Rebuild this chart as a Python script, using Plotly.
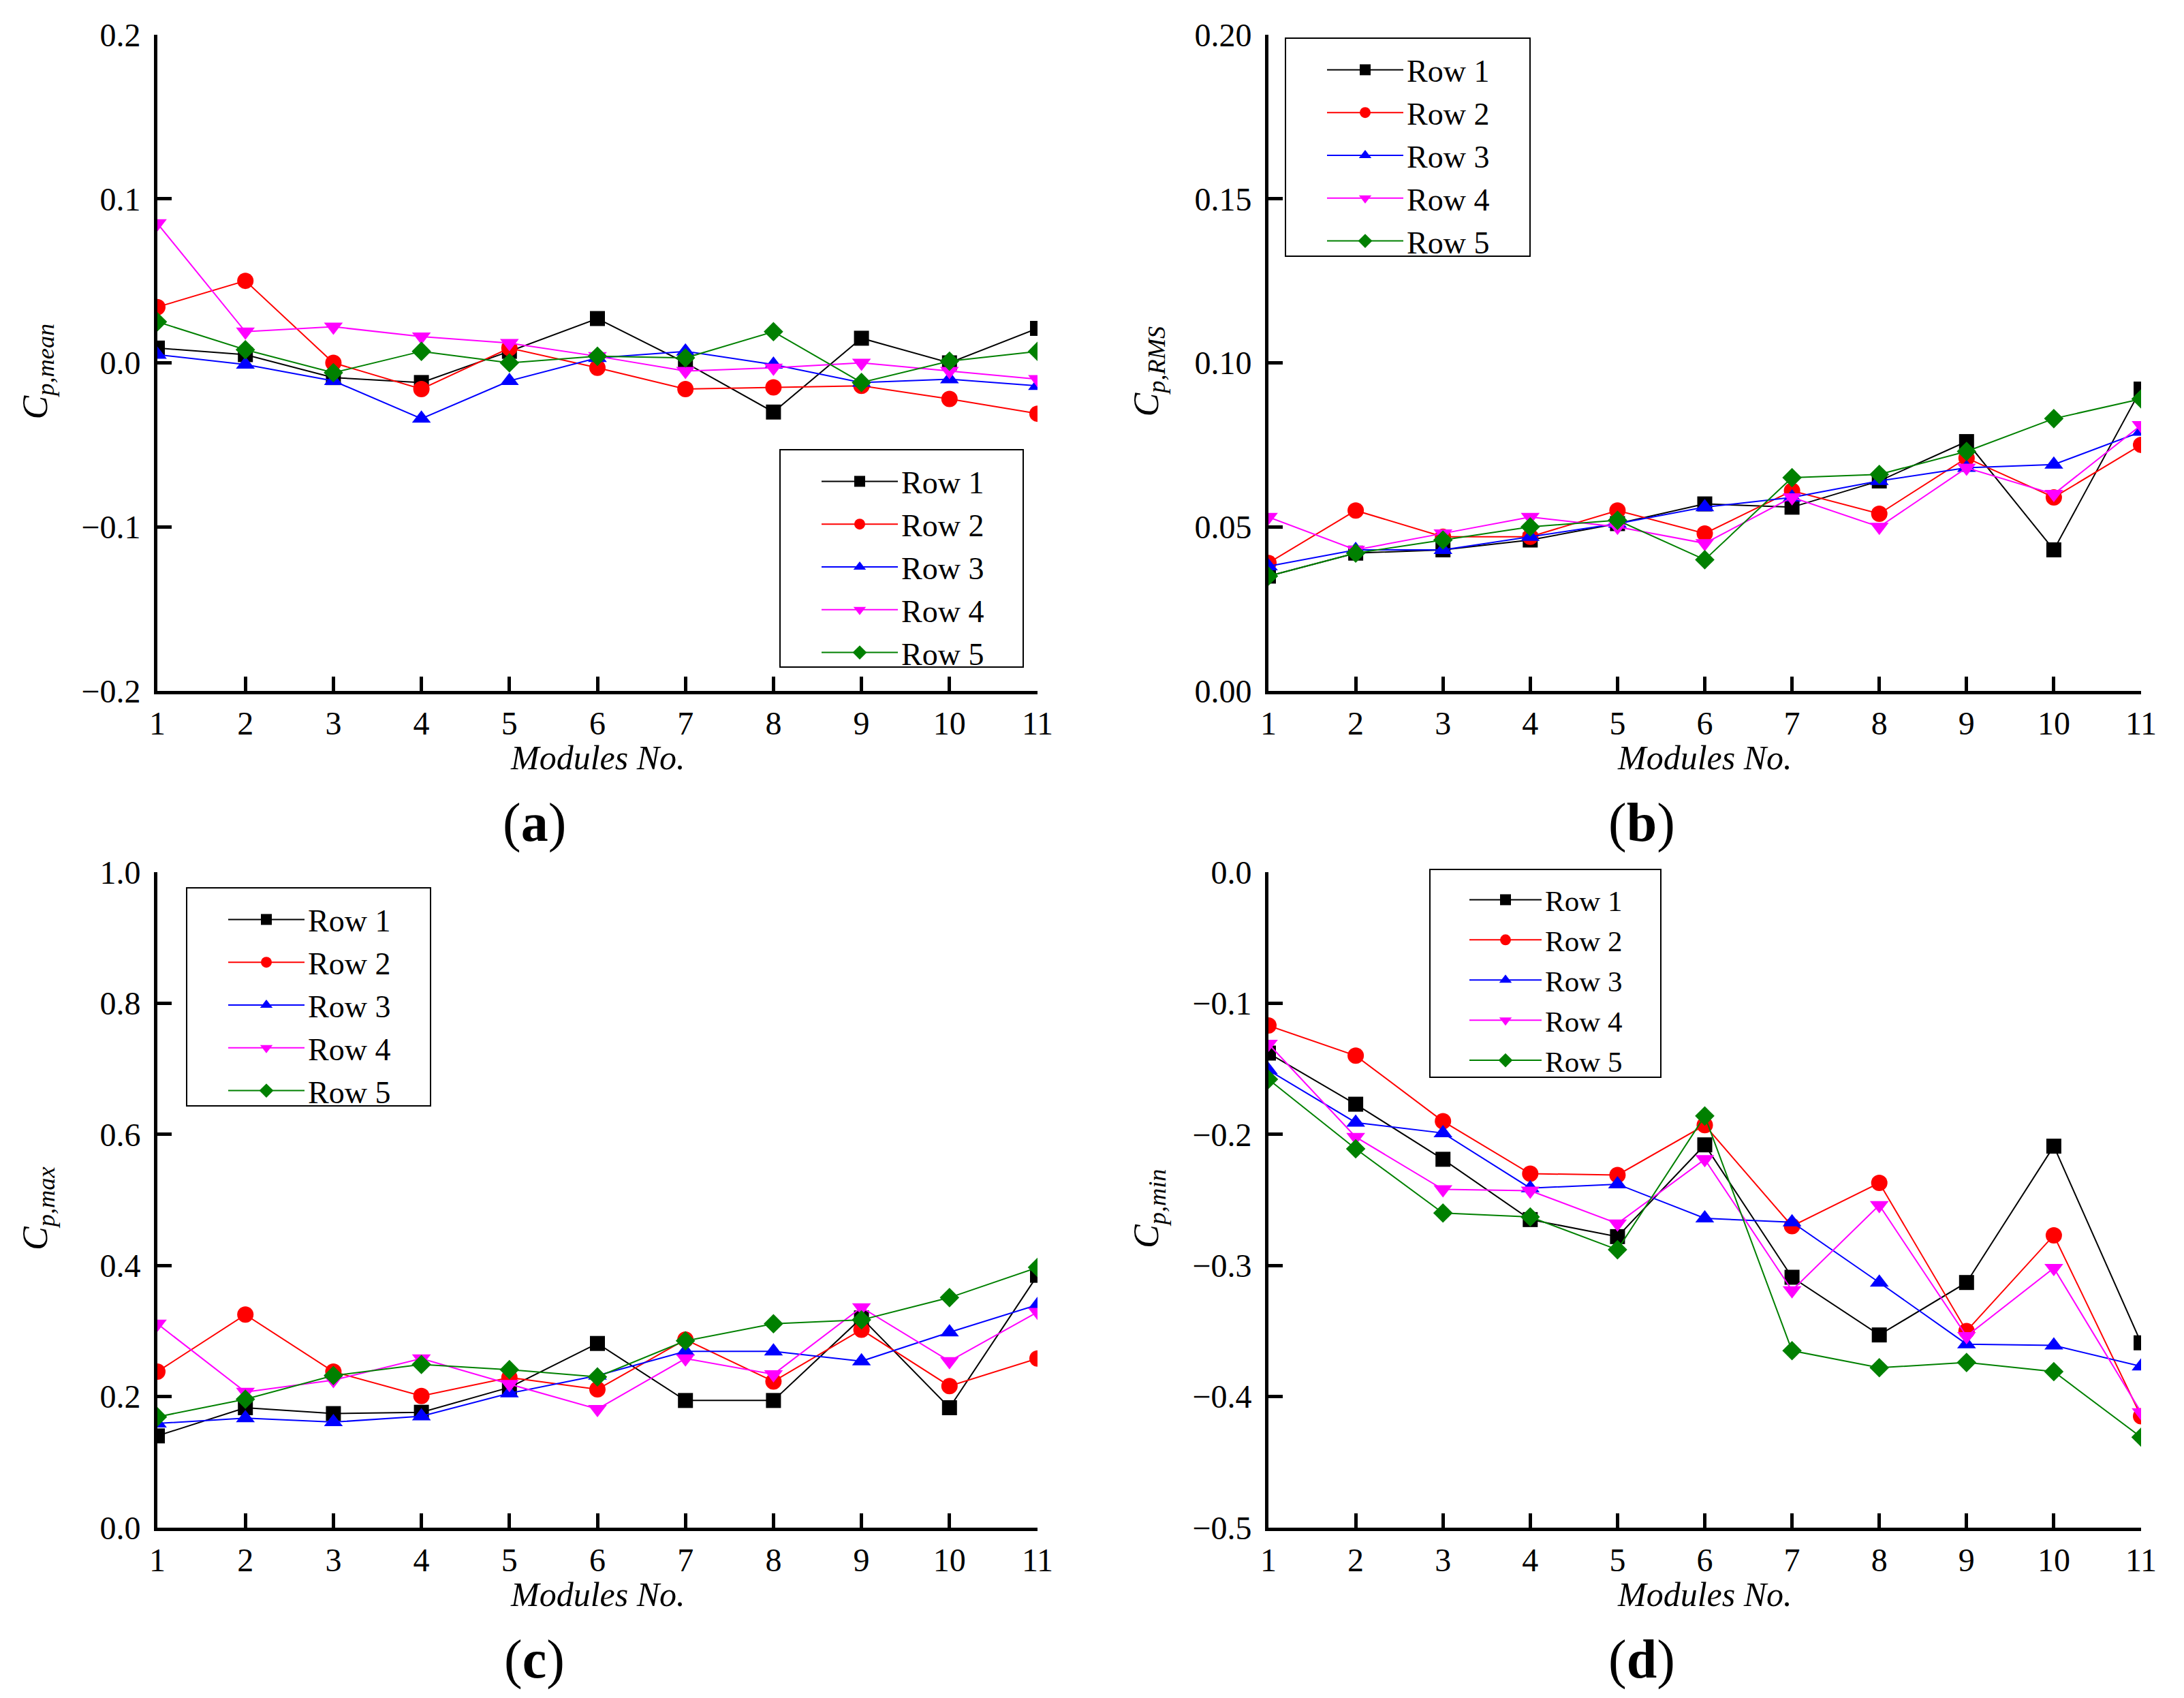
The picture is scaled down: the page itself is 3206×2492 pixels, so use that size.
import plotly.graph_objects as go
from plotly.subplots import make_subplots

modules = list(range(1, 12))
row_names = ["Row 1", "Row 2", "Row 3", "Row 4", "Row 5"]

# (a) mean pressure coefficient
cp_mean_row1 = [0.009, 0.005, -0.009, -0.012, 0.007, 0.027, 0.0, -0.030, 0.015, 0.0, 0.021]
cp_mean_row2 = [0.034, 0.050, 0.0, -0.016, 0.009, -0.003, -0.016, -0.015, -0.014, -0.022, -0.031]
cp_mean_row3 = [0.005, -0.001, -0.011, -0.034, -0.011, 0.003, 0.007, -0.001, -0.012, -0.010, -0.014]
cp_mean_row4 = [0.085, 0.019, 0.022, 0.016, 0.012, 0.004, -0.005, -0.003, 0.0, -0.005, -0.010]
cp_mean_row5 = [0.025, 0.008, -0.006, 0.007, 0.0, 0.004, 0.003, 0.019, -0.012, 0.001, 0.007]

# (b) RMS
cp_rms_row1 = [0.035, 0.042, 0.043, 0.046, 0.051, 0.057, 0.056, 0.064, 0.076, 0.043, 0.092]
cp_rms_row2 = [0.039, 0.055, 0.047, 0.047, 0.055, 0.048, 0.061, 0.054, 0.071, 0.059, 0.075]
cp_rms_row3 = [0.038, 0.043, 0.043, 0.047, 0.051, 0.056, 0.059, 0.064, 0.068, 0.069, 0.079]
cp_rms_row4 = [0.053, 0.043, 0.048, 0.053, 0.050, 0.045, 0.059, 0.050, 0.068, 0.060, 0.081]
cp_rms_row5 = [0.035, 0.042, 0.046, 0.050, 0.052, 0.040, 0.065, 0.066, 0.073, 0.083, 0.089]

# (c) max
cp_max_row1 = [0.140, 0.183, 0.174, 0.176, 0.214, 0.281, 0.194, 0.194, 0.320, 0.183, 0.385]
cp_max_row2 = [0.238, 0.325, 0.238, 0.201, 0.229, 0.211, 0.287, 0.223, 0.302, 0.216, 0.258]
cp_max_row3 = [0.159, 0.167, 0.161, 0.170, 0.205, 0.232, 0.269, 0.269, 0.254, 0.298, 0.340]
cp_max_row4 = [0.311, 0.207, 0.225, 0.258, 0.219, 0.181, 0.258, 0.234, 0.336, 0.254, 0.329]
cp_max_row5 = [0.169, 0.196, 0.232, 0.249, 0.241, 0.230, 0.285, 0.311, 0.317, 0.351, 0.397]

# (d) min
cp_min_row1 = [-0.138, -0.177, -0.219, -0.265, -0.278, -0.208, -0.309, -0.353, -0.313, -0.209, -0.359]
cp_min_row2 = [-0.117, -0.140, -0.190, -0.230, -0.231, -0.193, -0.270, -0.237, -0.350, -0.277, -0.415]
cp_min_row3 = [-0.151, -0.191, -0.199, -0.241, -0.238, -0.264, -0.267, -0.313, -0.360, -0.361, -0.377]
cp_min_row4 = [-0.131, -0.202, -0.242, -0.243, -0.268, -0.219, -0.319, -0.254, -0.354, -0.302, -0.412]
cp_min_row5 = [-0.158, -0.211, -0.260, -0.263, -0.288, -0.186, -0.365, -0.378, -0.374, -0.381, -0.431]

colors = ["#000000", "#FF0000", "#0000FF", "#FF00FF", "#008000"]
symbols = ["square", "circle", "triangle-up", "triangle-down", "diamond"]
marker_sizes = [22, 24, 24, 24, 22]
font_family = "Liberation Serif"

panels = [
	[cp_mean_row1, cp_mean_row2, cp_mean_row3, cp_mean_row4, cp_mean_row5],
	[cp_rms_row1, cp_rms_row2, cp_rms_row3, cp_rms_row4, cp_rms_row5],
	[cp_max_row1, cp_max_row2, cp_max_row3, cp_max_row4, cp_max_row5],
	[cp_min_row1, cp_min_row2, cp_min_row3, cp_min_row4, cp_min_row5],
]
y_ranges = [[-0.2, 0.2], [0.0, 0.2], [0.0, 1.0], [-0.5, 0.0]]
y_dticks = [0.1, 0.05, 0.2, 0.1]
y_formats = [".1f", ".2f", ".1f", ".1f"]
y_titles = ["mean", "RMS", "max", "min"]
panel_letters = ["a", "b", "c", "d"]

W = 3206
H = 2492
# plot areas in pixels (left, right, top, bottom)
boxes = [(231, 1523, 51, 1014), (1862, 3143, 51, 1014), (231, 1523, 1280, 2242), (1862, 3143, 1280, 2242)]
# legend frames in pixels (left, right, top, bottom)
legend_boxes = [(1145, 1502, 660, 979), (1887, 2246, 56, 376), (274, 632, 1303, 1623), (2099, 2438, 1276, 1581)]
legend_fonts = [46, 46, 46, 43]
legend_items = [112, 112, 112, 106]
legend_dx = [56, 56, 56, 53]

def px(x):
	return x / W

def py(y):
	return 1 - y / H

fig = make_subplots(rows=2, cols=2)

for p in range(4):
	r = p // 2 + 1
	c = p % 2 + 1
	leg = "legend" if p == 0 else "legend{}".format(p + 1)
	for i in range(5):
		fig.add_trace(go.Scatter(
			x=modules,
			y=panels[p][i],
			name=row_names[i],
			mode="lines+markers",
			line=dict(color=colors[i], width=2),
			marker=dict(symbol=symbols[i], size=marker_sizes[i], color=colors[i]),
			legend=leg,
		), row=r, col=c)

layout_upd = {}
annotations = []
shapes = []
for p in range(4):
	sfx = "" if p == 0 else str(p + 1)
	l, rgt, t, b = boxes[p]
	layout_upd["xaxis" + sfx] = dict(
		domain=[px(l), px(rgt)],
		range=[1, 11],
		tickvals=modules,
		ticks="inside",
		ticklen=21,
		tickwidth=4.5,
		tickcolor="black",
		showline=True,
		linewidth=5,
		linecolor="black",
		showgrid=False,
		zeroline=False,
		automargin=False,
		ticklabelstandoff=1,
		tickfont=dict(family=font_family, size=48, color="black"),
	)
	layout_upd["yaxis" + sfx] = dict(
		domain=[py(b), py(t)],
		range=y_ranges[p],
		dtick=y_dticks[p],
		tick0=0,
		tickformat=y_formats[p],
		ticks="inside",
		ticklen=21,
		tickwidth=4.5,
		tickcolor="black",
		showline=True,
		linewidth=5,
		linecolor="black",
		showgrid=False,
		zeroline=False,
		automargin=False,
		ticklabelstandoff=10,
		tickfont=dict(family=font_family, size=48, color="black"),
	)
	# legend with a drawn frame around it
	ll, lr, lt, lb = legend_boxes[p]
	shapes.append(dict(
		type="rect", xref="paper", yref="paper",
		x0=px(ll), x1=px(lr), y0=py(lb), y1=py(lt),
		line=dict(color="black", width=2), fillcolor="white", layer="below"))
	leg = "legend" if p == 0 else "legend{}".format(p + 1)
	layout_upd[leg] = dict(
		x=px(ll + legend_dx[p]),
		y=py(lt + 10),
		xanchor="left",
		yanchor="top",
		bgcolor="rgba(0,0,0,0)",
		borderwidth=0,
		itemwidth=legend_items[p],
		tracegroupgap=0,
		font=dict(family=font_family, size=legend_fonts[p], color="black"),
	)
	# x title
	annotations.append(dict(
		text="<i>Modules No.</i>", xref="paper", yref="paper",
		x=px((l + rgt) / 2), y=py(b + 98), xanchor="center", yanchor="middle",
		showarrow=False, font=dict(family=font_family, size=50, color="black")))
	# y title
	annotations.append(dict(
		text="<i>C</i><sub><i>p,{}</i></sub>".format(y_titles[p]), xref="paper", yref="paper",
		x=px(l - 176), y=py((t + b) / 2 + 13), xanchor="center", yanchor="middle", textangle=-90,
		showarrow=False, font=dict(family=font_family, size=52, color="black")))
	# panel label
	annotations.append(dict(
		text="(<b>{}</b>)".format(panel_letters[p]), xref="paper", yref="paper",
		x=px((l + rgt) / 2 - 93), y=py(b + 193), xanchor="center", yanchor="middle",
		showarrow=False, font=dict(family=font_family, size=80, color="black")))

fig.update_layout(**layout_upd)
fig.update_layout(
	width=W,
	height=H,
	margin=dict(l=0, r=0, t=0, b=0),
	paper_bgcolor="white",
	plot_bgcolor="white",
	font=dict(family=font_family, size=48, color="black"),
	annotations=annotations,
	shapes=shapes,
)

# drop the page's default body margin so the figure sits at the window corner
fig.write_html("out.html", config={"displayModeBar": False},
	post_script="document.body.style.margin='0px';")
